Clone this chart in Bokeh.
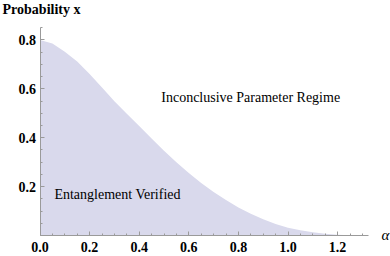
from bokeh.plotting import figure
from bokeh.models import FixedTicker, Label, Range1d, PrintfTickFormatter
from bokeh.embed import file_html
from bokeh.resources import INLINE

# Boundary curve (alpha, probability x)
alpha = [0.00, 0.05, 0.10, 0.15, 0.20, 0.25, 0.30, 0.35, 0.40, 0.45, 0.50,
         0.55, 0.60, 0.65, 0.70, 0.75, 0.80, 0.85, 0.90, 0.95, 1.00,
         1.05, 1.10, 1.15, 1.20, 1.25, 1.30]
prob = [0.800, 0.785, 0.752, 0.712, 0.660, 0.605, 0.549, 0.498, 0.448, 0.397, 0.347,
        0.300, 0.256, 0.215, 0.178, 0.145, 0.115, 0.089, 0.066, 0.047, 0.032,
        0.021, 0.013, 0.007, 0.003, 0.001, 0.000]

x_ticks = [0.0, 0.2, 0.4, 0.6, 0.8, 1.0, 1.2]
y_ticks = [0.2, 0.4, 0.6, 0.8]
x_minor = [round(i * 0.05, 2) for i in range(27)]
y_minor = [round(i * 0.05, 2) for i in range(18)]

region_inconclusive = "Inconclusive Parameter Regime"
region_verified = "Entanglement Verified"
y_title = "Probability x"
x_title = "\u03b1"

p = figure(width=390, height=256, output_backend="svg", toolbar_location=None,
           x_range=Range1d(-0.1593, 1.4133), y_range=Range1d(-0.0859, 0.9611),
           min_border_left=0, min_border_right=0, min_border_top=0,
           min_border_bottom=0)
p.varea(x=alpha, y1=0, y2=prob, fill_color="#d9d9ec", fill_alpha=1.0)

p.grid.visible = False
p.outline_line_color = None
p.background_fill_color = "white"
p.border_fill_color = "white"

axis_col = "#9a9a9a"
for ax in (p.xaxis[0], p.yaxis[0]):
    ax.fixed_location = 0
    ax.axis_line_color = axis_col
    ax.major_tick_line_color = axis_col
    ax.minor_tick_line_color = axis_col
    ax.major_tick_in = 4
    ax.major_tick_out = 0
    ax.minor_tick_in = 2
    ax.minor_tick_out = 0
    ax.major_label_text_font = "Liberation Serif"
    ax.major_label_text_font_style = "bold"
    ax.major_label_text_font_size = "14px"
    ax.major_label_text_color = "black"
    ax.formatter = PrintfTickFormatter(format="%.1f")

p.xaxis[0].bounds = (0, 1.325)
p.yaxis[0].bounds = (0, 0.851)
p.xaxis[0].ticker = FixedTicker(ticks=x_ticks, minor_ticks=x_minor)
p.yaxis[0].ticker = FixedTicker(ticks=y_ticks, minor_ticks=y_minor)
p.xaxis[0].major_label_standoff = 7
p.yaxis[0].major_label_standoff = 4

p.add_layout(Label(x=0.489, y=0.564, text=region_inconclusive,
                   text_font="Liberation Serif", text_font_size="14px",
                   text_color="black", text_baseline="alphabetic"))
p.add_layout(Label(x=0.058, y=0.167, text=region_verified,
                   text_font="Liberation Serif", text_font_size="14px",
                   text_color="black", text_baseline="alphabetic"))
p.add_layout(Label(x=-0.151, y=0.924, text=y_title,
                   text_font="Liberation Serif", text_font_size="14px",
                   text_font_style="bold", text_color="black",
                   text_baseline="alphabetic"))
p.add_layout(Label(x=1.393, y=0.004, text=x_title,
                   text_font="Liberation Serif", text_font_size="15px",
                   text_font_style="italic", text_color="black",
                   text_align="center", text_baseline="middle"))

open("out.html", "w").write(file_html(p, INLINE))
